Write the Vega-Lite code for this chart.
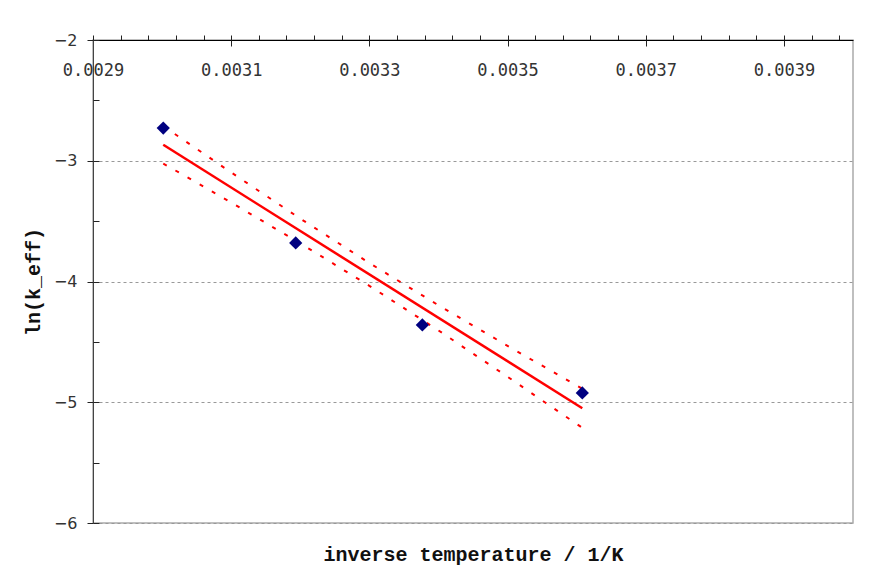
{
  "$schema": "https://vega.github.io/schema/vega-lite/v6.json",
  "width": 760,
  "height": 483,
  "autosize": {"type": "none"},
  "padding": {"left": 93, "top": 40, "right": 32, "bottom": 51},
  "background": "white",
  "config": {
    "view": {"stroke": "#aaaaaa", "strokeWidth": 1.5},
    "axis": {"labelColor": "#333333", "tickColor": "#222222", "titleColor": "#111111"}
  },
  "datasets": {
    "pts": [
      {"x": 0.0030017, "y": -2.729},
      {"x": 0.0031934, "y": -3.681},
      {"x": 0.0033767, "y": -4.360},
      {"x": 0.0036082, "y": -4.923}
    ],
    "fit": [
      {"x": 0.0030017, "y": -2.868},
      {"x": 0.0036082, "y": -5.050}
    ],
    "band": [
      {"x": 0.0030017, "upper": -2.713, "lower": -3.023},
      {"x": 0.0031, "upper": -3.097, "lower": -3.346},
      {"x": 0.0032, "upper": -3.479, "lower": -3.684},
      {"x": 0.0033, "upper": -3.847, "lower": -4.036},
      {"x": 0.0034, "upper": -4.197, "lower": -4.405},
      {"x": 0.0035, "upper": -4.533, "lower": -4.789},
      {"x": 0.0036082, "upper": -4.888, "lower": -5.212}
    ]
  },
  "resolve": {"axis": {"x": "independent", "y": "independent"}},
  "layer": [
    {
      "data": {"name": "band"},
      "mark": {"type": "line", "color": "#ff0000", "strokeWidth": 2, "strokeDash": [4, 10]},
      "encoding": {
        "x": {"field": "x", "type": "quantitative",
          "scale": {"domain": [0.0029, 0.004], "nice": false, "zero": false},
          "axis": {"orient": "top", "title": null, "domainColor": "#000000", "domainWidth": 1,
            "values": [0.0029, 0.00294, 0.00298, 0.00302, 0.00306, 0.0031, 0.00314, 0.00318, 0.00322, 0.00326, 0.0033, 0.00334, 0.00338, 0.00342, 0.00346, 0.0035, 0.00354, 0.00358, 0.00362, 0.00366, 0.0037, 0.00374, 0.00378, 0.00382, 0.00386, 0.0039, 0.00394, 0.00398],
            "labelExpr": "round(datum.value*100000) % 20 == 10 ? format(datum.value, '.4f') : ''",
            "tickSize": 5, "labelFont": "DejaVu Sans Mono", "labelFontSize": 17,
            "labelBaseline": "middle", "labelPadding": -35, "labelFlush": false, "labelOverlap": false, "grid": false}},
        "y": {"field": "upper", "type": "quantitative",
          "scale": {"domain": [-6, -2], "nice": false, "zero": false},
          "axis": {"orient": "left", "values": [-6, -5, -4, -3, -2], "tickSize": 6,
            "labelPadding": 10, "labelFont": "DejaVu Sans", "labelFontSize": 16,
            "domainColor": "#444444", "grid": true, "gridColor": "#999999", "gridDash": [3, 3],
            "title": "ln(k_eff)", "titleFont": "Liberation Mono", "titleFontSize": 20, "titleFontWeight": "bold", "titlePadding": 10}}
      }
    },
    {
      "data": {"name": "band"},
      "mark": {"type": "line", "color": "#ff0000", "strokeWidth": 2, "strokeDash": [4, 10]},
      "encoding": {
        "x": {"field": "x", "type": "quantitative",
          "axis": {"orient": "top", "title": null, "values": [0.0029, 0.0031, 0.0033, 0.0035, 0.0037, 0.0039],
            "tickSize": -6, "labels": false, "domain": false, "grid": false}},
        "y": {"field": "lower", "type": "quantitative",
          "axis": {"orient": "left", "title": null, "values": [-6, -5.5, -5, -4.5, -4, -3.5, -3, -2.5, -2],
            "tickSize": -6, "labels": false, "domain": false, "grid": false}}
      }
    },
    {
      "data": {"name": "fit"},
      "mark": {"type": "line", "color": "#ff0000", "strokeWidth": 2.5},
      "encoding": {
        "x": {"field": "x", "type": "quantitative",
          "axis": {"orient": "bottom", "title": "inverse temperature / 1/K", "titleFont": "Liberation Mono", "titleFontSize": 20, "titleFontWeight": "bold", "titlePadding": 21,
            "ticks": false, "labels": false, "domain": false, "grid": false}},
        "y": {"field": "y", "type": "quantitative", "axis": null}
      }
    },
    {
      "data": {"name": "pts"},
      "mark": {"type": "point", "shape": "diamond", "filled": true, "color": "#000080", "size": 175, "opacity": 1},
      "encoding": {
        "x": {"field": "x", "type": "quantitative", "axis": null},
        "y": {"field": "y", "type": "quantitative", "axis": null}
      }
    }
  ]
}
